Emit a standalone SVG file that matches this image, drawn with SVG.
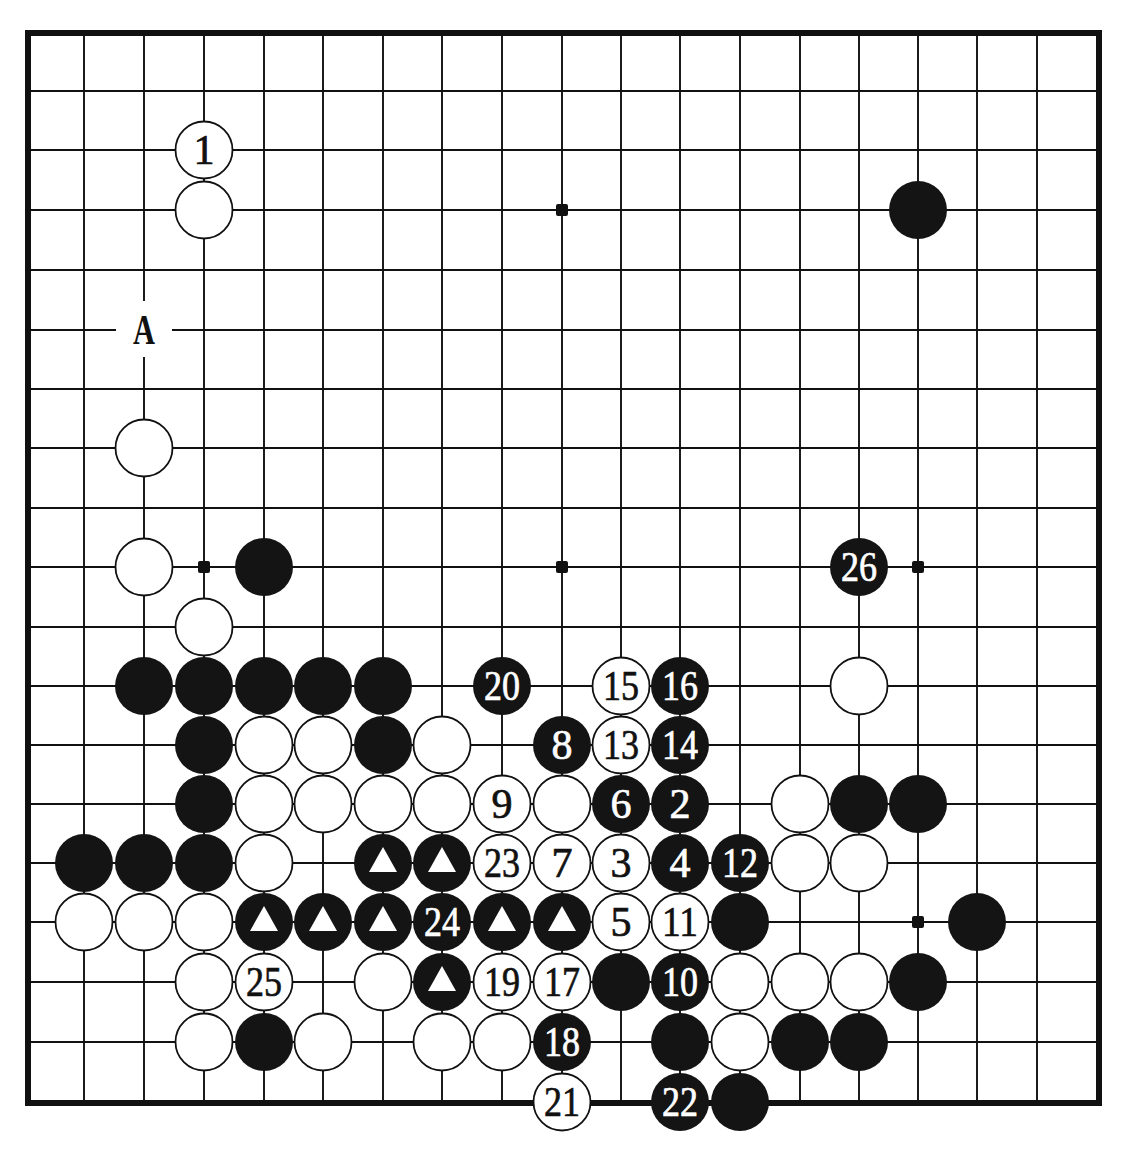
<svg xmlns="http://www.w3.org/2000/svg" width="1134" height="1156" viewBox="0 0 1134 1156">
<style>
.g{stroke:#111;stroke-width:1.9;fill:none}
.bd{stroke:#111;stroke-width:6;fill:none}
.st{fill:#111}
.w{fill:#fff;stroke:#111;stroke-width:1.8}
.b{fill:#141414}
.tri{fill:#fff}
.n{font-family:"Liberation Serif","Times New Roman",serif;font-size:42px;text-anchor:middle;stroke-width:0.7}
.nw{fill:#111;stroke:#111}
.nb{fill:#fff;stroke:#fff}
.a{font-weight:bold;stroke-width:0}
</style>
<rect width="1134" height="1156" fill="#fff"/>
<g id="grid">
<path class="g" d="M84 33V1103M144 33V1103M204 33V1103M264 33V1103M323 33V1103M383 33V1103M442 33V1103M502 33V1103M562 33V1103M621 33V1103M680 33V1103M740 33V1103M800 33V1103M859 33V1103M918 33V1103M977 33V1103M1037 33V1103"/>
<path class="g" d="M28 91H1099M28 150H1099M28 210H1099M28 270H1099M28 330H1099M28 389H1099M28 448H1099M28 508H1099M28 567H1099M28 627H1099M28 686H1099M28 745H1099M28 804H1099M28 863H1099M28 922H1099M28 982H1099M28 1042H1099"/>
<rect class="bd" x="28" y="33" width="1071" height="1070"/>
<rect class="st" x="198" y="561" width="12" height="12" rx="2"/>
<rect class="st" x="556" y="561" width="12" height="12" rx="2"/>
<rect class="st" x="912" y="561" width="12" height="12" rx="2"/>
<rect class="st" x="556" y="204" width="12" height="12" rx="2"/>
<rect class="st" x="912" y="916" width="12" height="12" rx="2"/>
</g>
<g id="label-A"><rect x="116" y="301" width="56" height="56" fill="#fff"/><text class="n nw a" x="144" y="344" textLength="22" lengthAdjust="spacingAndGlyphs">A</text></g>
<g id="stones">
<g id="w1"><circle class="w" cx="204" cy="150" r="28.5"/><text class="n nw" x="204" y="164">1</text></g>
<g id="w-3-3"><circle class="w" cx="204" cy="210" r="28.5"/></g>
<g id="b-15-3"><circle class="b" cx="918" cy="210" r="29"/></g>
<g id="w-2-7"><circle class="w" cx="144" cy="448" r="28.5"/></g>
<g id="w-2-9"><circle class="w" cx="144" cy="567" r="28.5"/></g>
<g id="b-4-9"><circle class="b" cx="264" cy="567" r="29"/></g>
<g id="b26"><circle class="b" cx="859" cy="567" r="29"/><text class="n nb" x="859" y="581" textLength="36" lengthAdjust="spacingAndGlyphs">26</text></g>
<g id="w-3-10"><circle class="w" cx="204" cy="627" r="28.5"/></g>
<g id="b-2-11"><circle class="b" cx="144" cy="686" r="29"/></g>
<g id="b-3-11"><circle class="b" cx="204" cy="686" r="29"/></g>
<g id="b-4-11"><circle class="b" cx="264" cy="686" r="29"/></g>
<g id="b-5-11"><circle class="b" cx="323" cy="686" r="29"/></g>
<g id="b-6-11"><circle class="b" cx="383" cy="686" r="29"/></g>
<g id="b20"><circle class="b" cx="502" cy="686" r="29"/><text class="n nb" x="502" y="700" textLength="36" lengthAdjust="spacingAndGlyphs">20</text></g>
<g id="w15"><circle class="w" cx="621" cy="686" r="28.5"/><text class="n nw" x="621" y="700" textLength="36" lengthAdjust="spacingAndGlyphs">15</text></g>
<g id="b16"><circle class="b" cx="680" cy="686" r="29"/><text class="n nb" x="680" y="700" textLength="36" lengthAdjust="spacingAndGlyphs">16</text></g>
<g id="w-14-11"><circle class="w" cx="859" cy="686" r="28.5"/></g>
<g id="b-3-12"><circle class="b" cx="204" cy="745" r="29"/></g>
<g id="w-4-12"><circle class="w" cx="264" cy="745" r="28.5"/></g>
<g id="w-5-12"><circle class="w" cx="323" cy="745" r="28.5"/></g>
<g id="b-6-12"><circle class="b" cx="383" cy="745" r="29"/></g>
<g id="w-7-12"><circle class="w" cx="442" cy="745" r="28.5"/></g>
<g id="b8"><circle class="b" cx="562" cy="745" r="29"/><text class="n nb" x="562" y="759">8</text></g>
<g id="w13"><circle class="w" cx="621" cy="745" r="28.5"/><text class="n nw" x="621" y="759" textLength="36" lengthAdjust="spacingAndGlyphs">13</text></g>
<g id="b14"><circle class="b" cx="680" cy="745" r="29"/><text class="n nb" x="680" y="759" textLength="36" lengthAdjust="spacingAndGlyphs">14</text></g>
<g id="b-3-13"><circle class="b" cx="204" cy="804" r="29"/></g>
<g id="w-4-13"><circle class="w" cx="264" cy="804" r="28.5"/></g>
<g id="w-5-13"><circle class="w" cx="323" cy="804" r="28.5"/></g>
<g id="w-6-13"><circle class="w" cx="383" cy="804" r="28.5"/></g>
<g id="w-7-13"><circle class="w" cx="442" cy="804" r="28.5"/></g>
<g id="w9"><circle class="w" cx="502" cy="804" r="28.5"/><text class="n nw" x="502" y="818">9</text></g>
<g id="w-9-13"><circle class="w" cx="562" cy="804" r="28.5"/></g>
<g id="b6"><circle class="b" cx="621" cy="804" r="29"/><text class="n nb" x="621" y="818">6</text></g>
<g id="b2"><circle class="b" cx="680" cy="804" r="29"/><text class="n nb" x="680" y="818">2</text></g>
<g id="w-13-13"><circle class="w" cx="800" cy="804" r="28.5"/></g>
<g id="b-14-13"><circle class="b" cx="859" cy="804" r="29"/></g>
<g id="b-15-13"><circle class="b" cx="918" cy="804" r="29"/></g>
<g id="b-1-14"><circle class="b" cx="84" cy="863" r="29"/></g>
<g id="b-2-14"><circle class="b" cx="144" cy="863" r="29"/></g>
<g id="b-3-14"><circle class="b" cx="204" cy="863" r="29"/></g>
<g id="w-4-14"><circle class="w" cx="264" cy="863" r="28.5"/></g>
<g id="bt-6-14"><circle class="b" cx="383" cy="863" r="29"/><polygon class="tri" points="383,847 369,872 397,872"/></g>
<g id="bt-7-14"><circle class="b" cx="442" cy="863" r="29"/><polygon class="tri" points="442,847 428,872 456,872"/></g>
<g id="w23"><circle class="w" cx="502" cy="863" r="28.5"/><text class="n nw" x="502" y="877" textLength="36" lengthAdjust="spacingAndGlyphs">23</text></g>
<g id="w7"><circle class="w" cx="562" cy="863" r="28.5"/><text class="n nw" x="562" y="877">7</text></g>
<g id="w3"><circle class="w" cx="621" cy="863" r="28.5"/><text class="n nw" x="621" y="877">3</text></g>
<g id="b4"><circle class="b" cx="680" cy="863" r="29"/><text class="n nb" x="680" y="877">4</text></g>
<g id="b12"><circle class="b" cx="740" cy="863" r="29"/><text class="n nb" x="740" y="877" textLength="36" lengthAdjust="spacingAndGlyphs">12</text></g>
<g id="w-13-14"><circle class="w" cx="800" cy="863" r="28.5"/></g>
<g id="w-14-14"><circle class="w" cx="859" cy="863" r="28.5"/></g>
<g id="w-1-15"><circle class="w" cx="84" cy="922" r="28.5"/></g>
<g id="w-2-15"><circle class="w" cx="144" cy="922" r="28.5"/></g>
<g id="w-3-15"><circle class="w" cx="204" cy="922" r="28.5"/></g>
<g id="bt-4-15"><circle class="b" cx="264" cy="922" r="29"/><polygon class="tri" points="264,906 250,931 278,931"/></g>
<g id="bt-5-15"><circle class="b" cx="323" cy="922" r="29"/><polygon class="tri" points="323,906 309,931 337,931"/></g>
<g id="bt-6-15"><circle class="b" cx="383" cy="922" r="29"/><polygon class="tri" points="383,906 369,931 397,931"/></g>
<g id="b24"><circle class="b" cx="442" cy="922" r="29"/><text class="n nb" x="442" y="936" textLength="36" lengthAdjust="spacingAndGlyphs">24</text></g>
<g id="bt-8-15"><circle class="b" cx="502" cy="922" r="29"/><polygon class="tri" points="502,906 488,931 516,931"/></g>
<g id="bt-9-15"><circle class="b" cx="562" cy="922" r="29"/><polygon class="tri" points="562,906 548,931 576,931"/></g>
<g id="w5"><circle class="w" cx="621" cy="922" r="28.5"/><text class="n nw" x="621" y="936">5</text></g>
<g id="w11"><circle class="w" cx="680" cy="922" r="28.5"/><text class="n nw" x="680" y="936" textLength="36" lengthAdjust="spacingAndGlyphs">11</text></g>
<g id="b-12-15"><circle class="b" cx="740" cy="922" r="29"/></g>
<g id="b-16-15"><circle class="b" cx="977" cy="922" r="29"/></g>
<g id="w-3-16"><circle class="w" cx="204" cy="982" r="28.5"/></g>
<g id="w25"><circle class="w" cx="264" cy="982" r="28.5"/><text class="n nw" x="264" y="996" textLength="36" lengthAdjust="spacingAndGlyphs">25</text></g>
<g id="w-6-16"><circle class="w" cx="383" cy="982" r="28.5"/></g>
<g id="bt-7-16"><circle class="b" cx="442" cy="982" r="29"/><polygon class="tri" points="442,966 428,991 456,991"/></g>
<g id="w19"><circle class="w" cx="502" cy="982" r="28.5"/><text class="n nw" x="502" y="996" textLength="36" lengthAdjust="spacingAndGlyphs">19</text></g>
<g id="w17"><circle class="w" cx="562" cy="982" r="28.5"/><text class="n nw" x="562" y="996" textLength="36" lengthAdjust="spacingAndGlyphs">17</text></g>
<g id="b-10-16"><circle class="b" cx="621" cy="982" r="29"/></g>
<g id="b10"><circle class="b" cx="680" cy="982" r="29"/><text class="n nb" x="680" y="996" textLength="36" lengthAdjust="spacingAndGlyphs">10</text></g>
<g id="w-12-16"><circle class="w" cx="740" cy="982" r="28.5"/></g>
<g id="w-13-16"><circle class="w" cx="800" cy="982" r="28.5"/></g>
<g id="w-14-16"><circle class="w" cx="859" cy="982" r="28.5"/></g>
<g id="b-15-16"><circle class="b" cx="918" cy="982" r="29"/></g>
<g id="w-3-17"><circle class="w" cx="204" cy="1042" r="28.5"/></g>
<g id="b-4-17"><circle class="b" cx="264" cy="1042" r="29"/></g>
<g id="w-5-17"><circle class="w" cx="323" cy="1042" r="28.5"/></g>
<g id="w-7-17"><circle class="w" cx="442" cy="1042" r="28.5"/></g>
<g id="w-8-17"><circle class="w" cx="502" cy="1042" r="28.5"/></g>
<g id="b18"><circle class="b" cx="562" cy="1042" r="29"/><text class="n nb" x="562" y="1056" textLength="36" lengthAdjust="spacingAndGlyphs">18</text></g>
<g id="b-11-17"><circle class="b" cx="680" cy="1042" r="29"/></g>
<g id="w-12-17"><circle class="w" cx="740" cy="1042" r="28.5"/></g>
<g id="b-13-17"><circle class="b" cx="800" cy="1042" r="29"/></g>
<g id="b-14-17"><circle class="b" cx="859" cy="1042" r="29"/></g>
<g id="w21"><circle class="w" cx="562" cy="1102" r="28.5"/><text class="n nw" x="562" y="1116" textLength="36" lengthAdjust="spacingAndGlyphs">21</text></g>
<g id="b22"><circle class="b" cx="680" cy="1102" r="29"/><text class="n nb" x="680" y="1116" textLength="36" lengthAdjust="spacingAndGlyphs">22</text></g>
<g id="b-12-18"><circle class="b" cx="740" cy="1102" r="29"/></g>
</g>
</svg>
